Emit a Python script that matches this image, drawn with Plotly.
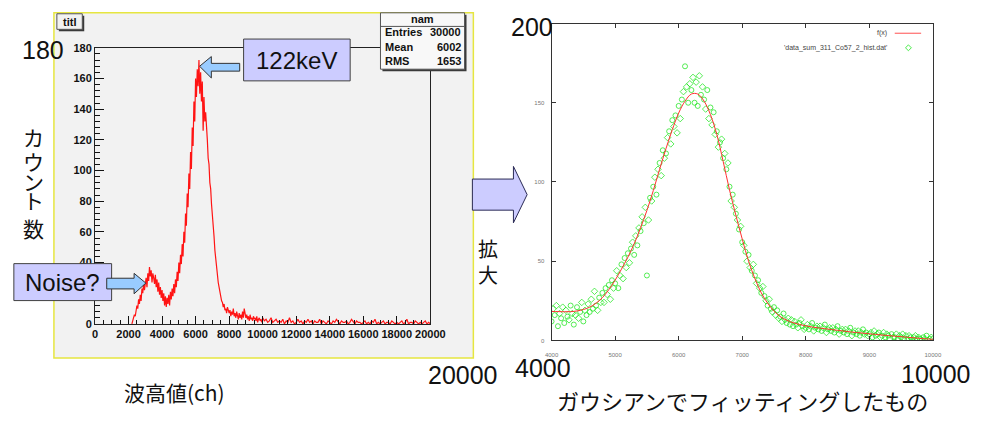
import plotly.graph_objects as go

W, H = 986, 432

# ---- ROOT pulse-height spectrum ----
# fine 50-channel bins across the structure, 2200 ch .. 9950 ch
fine_start = 2200
fine_step = 50
fine_counts = [
    0, 2, 3, 6, 5, 9,
    12, 10, 16, 13, 19, 15, 23, 20, 27, 22,
    25, 30, 24, 33, 28, 37, 31, 35, 27, 33,
    30, 26, 32, 24, 29, 21, 27, 19, 24, 17,
    22, 15, 20, 12, 18, 11, 17, 13, 19, 12,
    21, 16, 23, 18, 26, 20, 29, 24, 34, 28,
    40, 33, 45, 39, 52, 44, 60, 53, 72, 64,
    85, 76, 98, 88, 112, 101, 128, 116, 145, 132,
    160, 148, 166, 155, 172, 150, 164, 145, 158, 126,
    148, 132, 138, 122, 120, 108, 104, 92, 88, 78,
    72, 62, 57, 48, 42, 36, 32, 27, 24, 20,
    19, 15, 14, 11, 13, 9, 10, 7, 11, 8,
    7, 9, 5, 8, 6, 10, 5, 7, 4, 8,
    6, 3, 7, 4, 6, 3, 8, 4, 10, 5,
    4, 6, 3, 5, 2, 6, 3, 4, 2, 5,
    3, 4, 2, 5, 1, 3, 4, 2, 3, 1,
]
# flat tail in 100-channel bins, 10000 ch .. 20000 ch
tail_start = 10000
tail_step = 100
tail_counts = [
    4, 2, 3, 1, 2, 4, 1, 2, 3, 1,
    2, 1, 3, 0, 2, 1, 4, 1, 2, 0,
    1, 3, 1, 2, 0, 2, 1, 3, 1, 2,
    0, 2, 1, 1, 3, 0, 2, 1, 0, 2,
    1, 0, 2, 1, 3, 1, 0, 2, 1, 1,
    2, 0, 1, 3, 1, 0, 2, 1, 1, 0,
    1, 2, 0, 1, 0, 2, 1, 3, 0, 1,
    0, 1, 2, 0, 1, 1, 0, 2, 1, 0,
    1, 0, 1, 2, 0, 1, 3, 0, 1, 1,
    0, 2, 1, 0, 1, 0, 1, 2, 0, 1,
    0,
]
spec_channels = ([fine_start + fine_step * i for i in range(len(fine_counts))]
                 + [tail_start + tail_step * i for i in range(len(tail_counts))])
spec_counts = fine_counts + tail_counts

# ---- zoomed data points (4000-10000 ch, 25-channel spacing) ----
zoom_start = 4000
zoom_step = 25
zoom_counts = [
    12, 20, 16, 22, 9, 17, 14, 21,
    11, 19, 15, 13, 22, 17, 10, 16,
    21, 14, 18, 24, 12, 19, 16, 23,
    18, 26, 20, 31, 22, 19, 27, 24,
    30, 24, 33, 29, 35, 26, 38, 33,
    36, 44, 33, 41, 48, 39, 52, 46,
    55, 49, 58, 62, 54, 66, 60, 71,
    69, 78, 74, 84, 41, 76, 90, 88,
    97, 103, 92, 108, 112, 104, 120, 115,
    118, 128, 132, 124, 139, 135, 142, 131,
    148, 140, 152, 157, 173, 160, 150, 162,
    158, 166, 150, 163, 148, 167, 155, 160,
    152, 146, 158, 140, 147, 136, 144, 130,
    132, 122, 125, 127, 115, 118, 108, 112,
    97, 88, 92, 84, 80, 76, 70, 72,
    62, 60, 56, 50, 54, 46, 44, 48,
    41, 36, 38, 33, 30, 34, 28, 25,
    22, 26, 20, 18, 21, 16, 19, 14,
    15, 12, 17, 13, 11, 14, 10, 13,
    9, 12, 10, 8, 11, 13, 9, 7,
    8, 10, 7, 9, 11, 6, 8, 9,
    7, 9, 6, 8, 10, 5, 7, 8,
    6, 8, 5, 7, 9, 4, 6, 7,
    5, 7, 4, 6, 8, 3, 5, 6,
    4, 6, 3, 5, 7, 4, 5, 3,
    4, 5, 2, 6, 3, 4, 5, 2,
    3, 5, 2, 4, 3, 1, 4, 2,
    2, 4, 1, 3, 2, 4, 1, 3,
    1, 3, 2, 0, 2, 3, 1, 2,
    1, 0, 2, 1, 3, 0, 1, 2,
    1,
]
zoom_channels = [zoom_start + zoom_step * i for i in range(len(zoom_counts))]

# ---- fitted curve f(x), sampled every 100 ch ----
fit_start = 4000
fit_step = 100
fit_values = [
    18.3, 18.2, 18.1, 18.2, 18.6, 19.5, 21.0, 23.5, 27.0, 32.0,
    38.0, 45.0, 52.5, 61.0, 71.0, 82.0, 94.5, 108.0, 121.0, 133.0,
    143.5, 151.0, 155.5, 155.5, 151.0, 142.5, 130.0, 113.0, 95.0, 79.0,
    64.0, 50.0, 39.0, 30.0, 23.5, 18.5, 15.0, 12.8, 11.2, 10.1,
    9.2, 8.5, 7.9, 7.4, 6.9, 6.4, 5.9, 5.4, 5.0, 4.6,
    4.2, 3.8, 3.4, 3.1, 2.7, 2.4, 2.0, 1.7, 1.3, 1.0,
    0.7,
]
fit_channels = [fit_start + fit_step * i for i in range(len(fit_values))]

# tick labels
left_xticks = [0, 2000, 4000, 6000, 8000, 10000, 12000, 14000, 16000, 18000, 20000]
left_xticktext = ["0", "2000", "4000", "6000", "8000", "10000", "12000",
                  "14000", "16000", "18000", "20000"]
left_yticks = [0, 20, 40, 60, 80, 100, 120, 140, 160, 180]
right_xticks = [4000, 5000, 6000, 7000, 8000, 9000, 10000]
right_xticktext = ["4000", "5000", "6000", "7000", "8000", "9000", "10000"]
right_yticks = [0, 50, 100, 150, 200]
right_yticktext = ["0", "50", "100", "150", ""]

stats_rows = [("Entries", "30000"), ("Mean", "6002"), ("RMS", "1653")]


def px(x):
    return x / W


def py(y):
    return 1 - y / H


LATIN = "Liberation Sans, Arial, sans-serif"
CJK = "Noto Sans CJK JP, sans-serif"

fig = go.Figure()

# ROOT histogram
fig.add_trace(go.Scatter(
    x=spec_channels, y=spec_counts, mode="lines",
    line=dict(color="#ff1414", width=1.2),
    xaxis="x", yaxis="y", hoverinfo="skip",
))

# gnuplot data points
symbols = ["circle-open" if i % 2 == 0 else "diamond-open" for i in range(len(zoom_counts))]
fig.add_trace(go.Scatter(
    x=zoom_channels, y=zoom_counts, mode="markers",
    marker=dict(symbol=symbols, size=5, color="rgba(30,230,30,0.75)",
                line=dict(width=1, color="rgba(30,230,30,0.75)")),
    xaxis="x2", yaxis="y2", hoverinfo="skip",
))

# gnuplot fitted curve
fig.add_trace(go.Scatter(
    x=fit_channels, y=fit_values, mode="lines", line_shape="spline",
    line=dict(color="#ff3030", width=1),
    xaxis="x2", yaxis="y2", hoverinfo="skip",
))

shapes = []


def rect(x0, y0, x1, y1, fill, line="#444444", lw=1, layer="above"):
    shapes.append(dict(type="rect", xref="paper", yref="paper",
                       x0=px(x0), x1=px(x1), y0=py(y1), y1=py(y0),
                       fillcolor=fill, line=dict(color=line, width=lw), layer=layer))


def poly(points, fill, line, lw=1):
    d = "M " + " L ".join(f"{px(x):.5f},{py(y):.5f}" for x, y in points) + " Z"
    shapes.append(dict(type="path", xref="paper", yref="paper", path=d,
                       fillcolor=fill, line=dict(color=line, width=lw), layer="above"))


# ROOT canvas
rect(48, 7, 477, 362, "#f2f2f2", line="#e6e640", lw=1.5, layer="below")

# title pave with shadow
rect(53, 10, 79, 26, "#3a3a3a", line="#3a3a3a", lw=0)
rect(51, 8, 77, 24, "#f2f2f2", line="#555555")

# stats box with shadow
rect(384, 9, 470, 67, "#3a3a3a", line="#3a3a3a", lw=0)
rect(382, 7, 468, 65, "#f8f8f8", line="#555555")
shapes.append(dict(type="line", xref="paper", yref="paper",
                   x0=px(382), x1=px(468), y0=py(21), y1=py(21),
                   line=dict(color="#555555", width=1)))

# callout boxes
rect(242, 34, 351, 77, "#ccccff", line="#404040")
rect(7, 265, 107, 303, "#ccccff", line="#404040")

# callout arrows
poly([(197, 62), (209, 52), (209, 59), (238, 59), (238, 67), (209, 67), (209, 74)],
     "#99ccff", "#333333")
poly([(142, 285), (130, 275), (130, 280), (102, 280), (102, 291), (130, 291), (130, 296)],
     "#99ccff", "#333333")

# big "zoom" arrow between the panels
poly([(476, 178), (518, 178), (518, 165), (532, 194), (518, 223), (518, 210), (476, 210)],
     "#ccccff", "#2a2a55")

# gnuplot key samples
shapes.append(dict(type="line", xref="paper", yref="paper",
                   x0=px(908), x1=px(935), y0=py(28), y1=py(28),
                   line=dict(color="#ff5050", width=1)))
poly([(922, 40), (925, 43), (922, 46), (919, 43)], "rgba(0,0,0,0)", "rgba(30,230,30,0.8)")

annotations = []


def text(x, y, s, size, family=LATIN, color="#111111", xanchor="center", bold=False):
    annotations.append(dict(xref="paper", yref="paper", x=px(x), y=py(y), text=s,
                            showarrow=False, xanchor=xanchor, yanchor="middle",
                            font=dict(size=size, family=family, color=color,
                                      weight="bold" if bold else "normal")))


text(64, 16, "titl", 11, bold=True)
text(425, 13, "nam", 11, bold=True)
for (label, value), yy in zip(stats_rows, [27, 42, 57]):
    text(385, yy, label, 11, xanchor="left", bold=True)
    text(466, yy, value, 11, xanchor="right", bold=True)

text(296, 56, "122keV", 24)
text(57, 284, "Noise?", 24)

text(37, 45, "180", 25)
text(466, 380, "20000", 25)
text(537, 22, "200", 25)
text(548, 372, "4000", 25)
text(950, 379, "10000", 25)

for ch, yy in zip("カウント数", [135, 159, 180, 200, 228]):
    text(27, yy, ch, 21, family=CJK)
for ch, yy in zip("拡大", [249, 276]):
    text(492, yy, ch, 20, family=CJK)

text(171, 397, "波高値(ch)", 21, family=CJK)
text(752, 405, "ガウシアンでフィッティングしたもの", 22, family=CJK)

text(902, 28, "f(x)", 7, color="#444444", xanchor="right")
text(902, 43, "'data_sum_311_Co57_2_hist.dat'", 7, color="#444444", xanchor="right")

tick_bold = dict(family=LATIN, size=11, color="#111111", weight="bold")
tick_small = dict(family=LATIN, size=6, color="#777777")

fig.update_layout(
    width=W, height=H, autosize=False,
    margin=dict(l=0, r=0, t=0, b=0),
    paper_bgcolor="white", plot_bgcolor="rgba(0,0,0,0)",
    showlegend=False,
    shapes=shapes, annotations=annotations,
    xaxis=dict(domain=[px(90), px(433)], range=[0, 20000], anchor="y",
               tickvals=left_xticks, ticktext=left_xticktext,
               ticks="inside", ticklen=8, tickcolor="#111",
               showline=True, linecolor="#222", linewidth=1, mirror=True,
               minor=dict(dtick=500, ticks="inside", ticklen=4, tickcolor="#111"),
               showgrid=False, zeroline=False, tickfont=tick_bold),
    yaxis=dict(domain=[py(327), py(43)], range=[0, 180], anchor="x",
               tickvals=left_yticks, ticks="inside", ticklen=9, tickcolor="#111",
               showline=True, linecolor="#222", linewidth=1, mirror=True,
               minor=dict(dtick=4, ticks="inside", ticklen=5, tickcolor="#111"),
               showgrid=False, zeroline=False, tickfont=tick_bold),
    xaxis2=dict(domain=[px(557), px(947)], range=[4000, 10000], anchor="y2",
                tickvals=right_xticks, ticktext=right_xticktext,
                ticks="inside", ticklen=4, tickcolor="#333",
                showline=True, linecolor="#333", linewidth=1, mirror="ticks",
                showgrid=False, zeroline=False, tickfont=tick_small,
                ticklabelstandoff=8),
    yaxis2=dict(domain=[py(344), py(18)], range=[0, 200], anchor="x2",
                tickvals=right_yticks, ticktext=right_yticktext,
                ticks="inside", ticklen=4, tickcolor="#333",
                showline=True, linecolor="#333", linewidth=1, mirror="ticks",
                showgrid=False, zeroline=False, tickfont=tick_small,
                ticklabelstandoff=5),
)

fig.write_html("out.html")
